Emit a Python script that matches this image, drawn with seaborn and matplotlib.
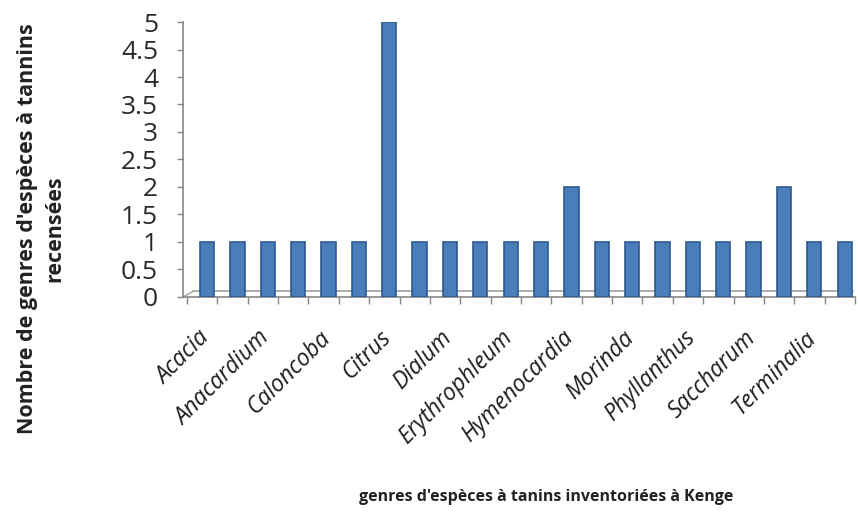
import numpy as np
import pandas as pd
import matplotlib
matplotlib.use("Agg")
import matplotlib.pyplot as plt
import matplotlib.transforms as mtransforms
import seaborn as sns

# Number of tannin-bearing species per genus (22 genera, alphabetical order)
counts = [1, 1, 1, 1, 1, 1, 5, 1, 1, 1, 1, 1, 2, 1, 1, 1, 1, 1, 1, 2, 1, 1]
# Genus names shown on the axis (every other category is labelled)
shown_genera = ["Acacia", "Anacardium", "Caloncoba", "Citrus", "Dialum",
                "Erythrophleum", "Hymenocardia", "Morinda", "Phyllanthus",
                "Saccharum", "Terminalia"]
y_ticks = [0, 0.5, 1, 1.5, 2, 2.5, 3, 3.5, 4, 4.5, 5]
y_ticklabels = ["0", "0.5", "1", "1.5", "2", "2.5", "3", "3.5", "4", "4.5", "5"]

sns.set_theme(style="white")
plt.rcParams["font.family"] = ["Open Sans", "DejaVu Sans"]

df = pd.DataFrame({"pos": np.arange(len(counts)), "n": counts})

fig = plt.figure(figsize=(8.58, 5.12), dpi=100)
ax = fig.add_axes([0.2133, 0.42, 0.7832, 0.537])

sns.barplot(data=df, x="pos", y="n", color="#4a7ebb", saturation=1,
            width=0.47, edgecolor="#2e5a8e", linewidth=1.2, ax=ax, zorder=3)

n = len(counts)
ax.set_xlim(-0.79, n - 1 + 0.28)
ax.set_ylim(0, 5)

# 3-D style floor line just above the category axis
ax.plot([-0.79 + 0.33, n - 1 + 0.28], [0.1, 0.1], color="#a6a6a6", lw=1.3,
        zorder=2, clip_on=False)
ax.plot([-0.79, -0.79 + 0.33], [0, 0.1], color="#a6a6a6", lw=1.0,
        zorder=2, clip_on=False)

# y axis
ax.set_yticks(y_ticks)
ax.set_yticklabels(y_ticklabels, fontsize=19, color="#2a2a2a",
                   fontweight="normal")
ax.tick_params(axis="y", direction="out", length=4, width=1, color="#868686",
               pad=14, left=True)

# x axis: tick marks between categories, labels on every other category
ax.set_xticks(np.arange(0, n + 1) - 0.66, minor=True)
ax.tick_params(axis="x", which="minor", direction="out", length=5, width=1,
               color="#868686", bottom=True)
ax.set_xticks(np.arange(0, n, 2))
ax.set_xticklabels(shown_genera, rotation=45, ha="right", va="center",
                   rotation_mode="anchor", fontsize=16.5, fontstyle="italic",
                   color="#1e1e1e")
ax.tick_params(axis="x", which="major", length=0, pad=27)
shift = mtransforms.ScaledTranslation(-1 / 72, 0, fig.dpi_scale_trans)
for lbl in ax.get_xticklabels():
    lbl.set_transform(lbl.get_transform() + shift)

ax.set_xlabel("")
ax.set_ylabel("")
for side in ["top", "right"]:
    ax.spines[side].set_visible(False)
for side in ["left", "bottom"]:
    ax.spines[side].set_color("#868686")
    ax.spines[side].set_linewidth(1.2)
ax.grid(False)

fig.text(0.048, 0.553, "Nombre de genres d'espèces à tannins\nrecensées",
         rotation=90, ha="center", va="center", multialignment="center",
         fontsize=15.5, fontweight="bold", color="#222222", linespacing=1.45)
fig.text(0.637, 0.03, "genres d'espèces à tanins inventoriées à Kenge",
         ha="center", va="center", fontsize=11.5, fontweight="bold",
         color="#222222")

fig.savefig("out.png", dpi=100, facecolor="white")
